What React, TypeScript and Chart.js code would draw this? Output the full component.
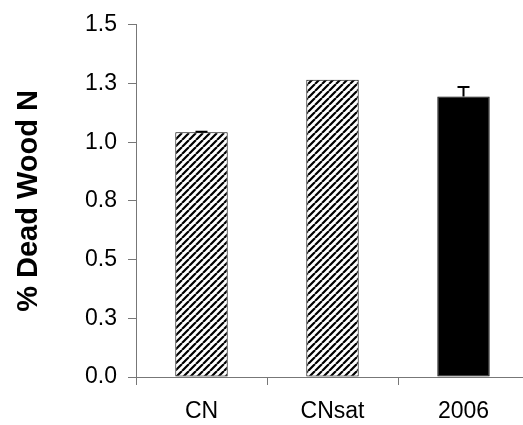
import React, { useEffect, useRef } from "react";
import { Chart, registerables } from "chart.js";
Chart.register(...registerables);

const categories = ["CN", "CNsat", "2006"];
const values = [1.042, 1.266, 1.195];
const errors = [0.003, 0, 0.04];
const yTickLabels = ["0.0", "0.3", "0.5", "0.8", "1.0", "1.3", "1.5"];
const yTitle = "% Dead Wood N";
const fillKinds = ["hatch", "hatch", "solid"];

function makeHatch(): CanvasPattern | string {
  const s = 7;
  const c = document.createElement("canvas");
  c.width = s;
  c.height = s;
  const g = c.getContext("2d");
  if (!g) return "#888";
  g.fillStyle = "#fff";
  g.fillRect(0, 0, s, s);
  g.strokeStyle = "#000";
  g.lineWidth = 2.2;
  g.beginPath();
  for (const k of [-s, 0, s]) {
    g.moveTo(k, s);
    g.lineTo(k + s, 0);
  }
  g.stroke();
  return g.createPattern(c, "repeat") || "#888";
}

const errorBars = {
  id: "errorBars",
  afterDatasetsDraw(chart: any) {
    const meta = chart.getDatasetMeta(0);
    const ys = chart.scales.y;
    const ctx = chart.ctx;
    ctx.save();
    ctx.strokeStyle = "#000";
    ctx.lineWidth = 2;
    meta.data.forEach((bar: any, i: number) => {
      const e = errors[i];
      if (!e) return;
      const x = bar.x;
      const y0 = ys.getPixelForValue(values[i]);
      const y1 = ys.getPixelForValue(values[i] + e);
      ctx.beginPath();
      ctx.moveTo(x, y0);
      ctx.lineTo(x, y1);
      ctx.moveTo(x - 6, y1);
      ctx.lineTo(x + 6, y1);
      ctx.stroke();
    });
    ctx.restore();
  },
};

export default function App() {
  const ref = useRef<HTMLCanvasElement>(null);
  useEffect(() => {
    if (!ref.current) return;
    document.documentElement.style.overflow = "hidden";
    Chart.defaults.font.family = "'Liberation Sans', Arial, sans-serif";
    Chart.defaults.color = "#000";
    const hatch = makeHatch();
    const bg = fillKinds.map((k) => (k === "hatch" ? hatch : "#000"));
    const chart = new Chart(ref.current, {
      type: "bar",
      data: {
        labels: categories,
        datasets: [
          {
            data: values,
            backgroundColor: bg as any,
            borderColor: "#000",
            borderWidth: 1,
            borderSkipped: false,
            categoryPercentage: 1,
            barPercentage: 0.4,
          },
        ],
      },
      plugins: [errorBars],
      options: {
        responsive: false,
        animation: false,
        layout: { padding: { top: 23, right: 1, bottom: 0, left: 0 } },
        plugins: { legend: { display: false }, tooltip: { enabled: false } },
        scales: {
          x: {
            afterFit: (s: any) => {
              s.height = 48;
            },
            grid: {
              offset: true,
              drawOnChartArea: false,
              drawTicks: true,
              tickLength: 8,
              color: "#777",
            },
            border: { color: "#777", width: 1 },
            ticks: { font: { size: 23 }, padding: 13, color: "#000" },
          },
          y: {
            min: 0,
            max: 1.5,
            afterFit: (s: any) => {
              s.width = 136;
            },
            grid: {
              drawOnChartArea: false,
              drawTicks: true,
              tickLength: 8,
              color: "#777",
            },
            border: { color: "#777", width: 1 },
            ticks: {
              stepSize: 0.25,
              autoSkip: false,
              font: { size: 23 },
              padding: 11,
              color: "#000",
              callback: (_v: any, i: number) => yTickLabels[i],
            },
            title: {
              display: true,
              text: yTitle,
              font: { size: 29, weight: "bold" },
              color: "#000",
              padding: { top: 12, bottom: 0 },
            },
          },
        },
      },
    });
    return () => chart.destroy();
  }, []);
  return (
    <div style={{ position: "fixed", left: 0, top: 0, width: 530, height: 425 }}>
      <canvas ref={ref} width={530} height={425} style={{ display: "block" }} />
    </div>
  );
}
